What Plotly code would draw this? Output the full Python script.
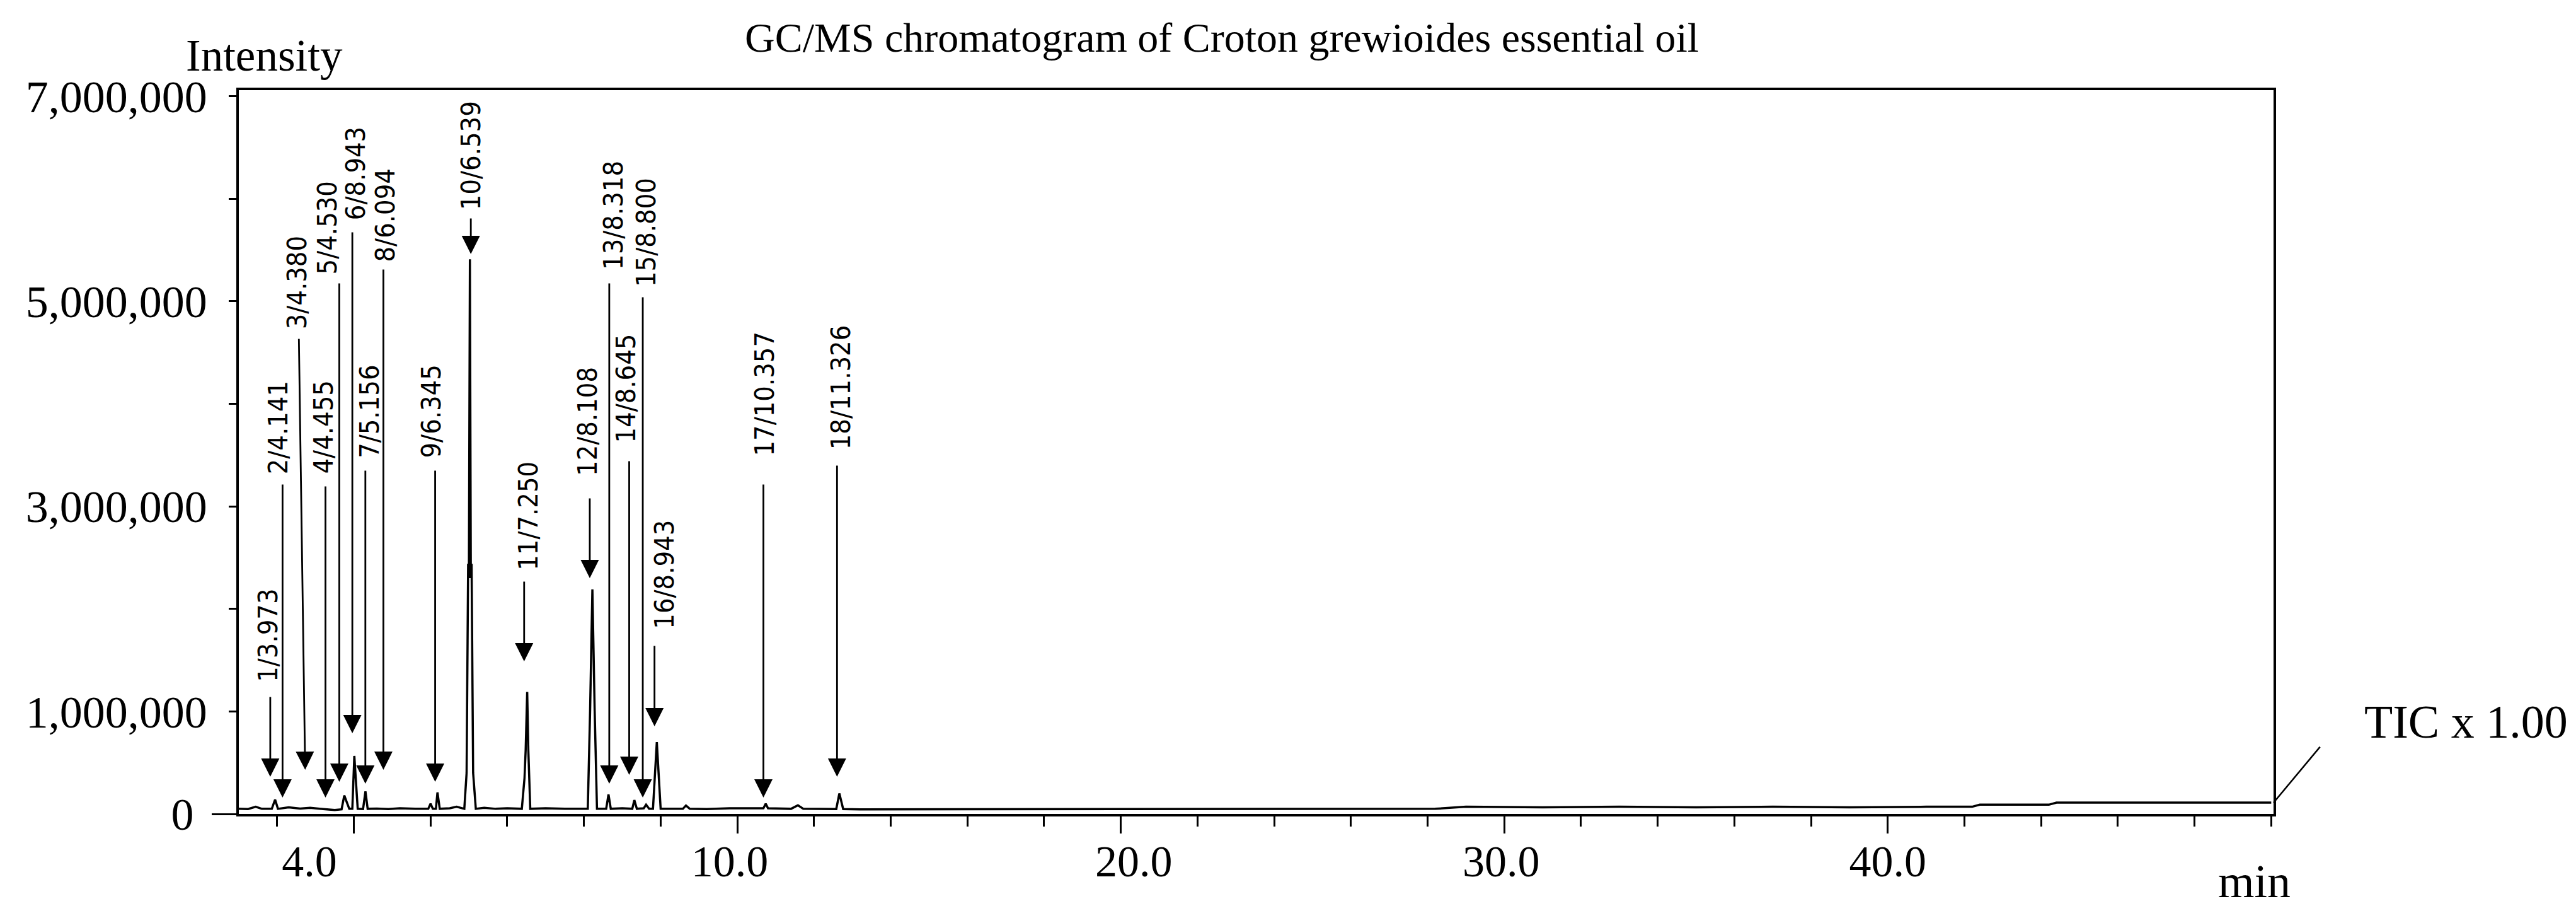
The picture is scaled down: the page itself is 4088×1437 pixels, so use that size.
import plotly.graph_objects as go

# TIC trace: retention time (min) and intensity (counts)
rt = [3.50, 3.62, 3.72, 3.80, 3.93, 3.973, 4.01, 4.15, 4.30, 4.43, 4.60, 4.75,
      4.84, 4.875, 4.94, 4.98, 5.006, 5.05, 5.12, 5.151, 5.18, 5.30, 5.45, 5.60,
      5.80, 5.97, 6.00, 6.03, 6.07, 6.09, 6.12, 6.25, 6.34, 6.44, 6.47, 6.49,
      6.50, 6.513, 6.525, 6.535, 6.555, 6.59, 6.70, 6.85, 7.00, 7.19, 7.225,
      7.24, 7.26, 7.275, 7.30, 7.50, 7.75, 8.05, 8.08, 8.11, 8.14, 8.17, 8.29,
      8.32, 8.35, 8.50, 8.63, 8.657, 8.69, 8.78, 8.81, 8.85, 8.90, 8.95, 9.00,
      9.15, 9.29, 9.33, 9.38, 9.60, 9.90, 10.20, 10.34, 10.37, 10.40, 10.70,
      10.79, 10.86, 11.00, 11.29, 11.33, 11.38, 11.60, 12.50, 14.00, 16.00,
      18.00, 19.10, 19.50, 20.50, 21.50, 22.50, 23.50, 24.50, 25.50, 26.10,
      26.20, 27.10, 27.20, 28.00, 29.00, 30.00]
tic = [50000, 48000, 70000, 50000, 50000, 140000, 50000, 65000, 52000, 60000, 48000, 38000,
       45000, 180000, 50000, 50000, 566000, 50000, 48000, 220000, 50000, 52000, 48000, 55000,
       50000, 50000, 100000, 50000, 50000, 210000, 50000, 55000, 70000, 50000, 400000, 2440000,
       2300000, 5410000, 2300000, 2440000, 400000, 50000, 60000, 50000, 55000, 50000, 350000,
       620000, 1190000, 620000, 50000, 55000, 50000, 50000, 1000000, 2190000, 1000000, 50000, 50000,
       190000, 50000, 55000, 50000, 135000, 50000, 55000, 90000, 50000, 50000, 700000, 50000,
       50000, 50000, 82000, 50000, 48000, 55000, 55000, 55000, 100000, 55000, 50000,
       85000, 50000, 48000, 48000, 200000, 48000, 45000, 45000, 45000, 45000,
       45000, 50000, 70000, 65000, 70000, 65000, 70000, 65000, 70000, 70000,
       90000, 90000, 110000, 110000, 110000, 110000]

# annotated peaks: label text, arrow position (min) and arrow tip intensity
peak_labels = ["1/3.973", "2/4.141", "3/4.380", "4/4.455", "5/4.530", "6/8.943",
               "7/5.156", "8/6.094", "9/6.345", "10/6.539", "11/7.250", "12/8.108",
               "13/8.318", "14/8.645", "15/8.800", "16/8.943", "17/10.357", "18/11.326"]
peak_rt = [3.91, 4.07, 4.365, 4.63, 4.81, 4.98, 5.15, 5.385, 6.06, 6.525, 7.22, 8.076,
           8.33, 8.59, 8.767, 8.92, 10.34, 11.30]
peak_tip = [363000, 160000, 430000, 160000, 314000, 787000, 295000, 430000, 314000,
            5461000, 1488000, 2300000, 295000, 381000, 160000, 855000, 160000, 363000]

y_ticks = [1000000, 2000000, 3000000, 4000000, 5000000, 6000000, 7000000]
y_ticktext = ["1,000,000", "", "3,000,000", "", "5,000,000", "", "7,000,000"]
x_major = [5, 10, 15, 20, 25]
x_label_pos = [4.42, 9.9, 15.17, 19.96, 25.0]
x_label_text = ["4.0", "10.0", "20.0", "30.0", "40.0"]

SERIF = "Liberation Serif, Times New Roman, serif"
NARROW = "DejaVu Sans Condensed, Liberation Sans Narrow, Arial Narrow, sans-serif"
X_RANGE = [3.5, 30.03]
Y_RANGE = [0, 7060000]

# pixel layout of the peak callouts: arrow shaft length / lean, label centre offsets
shaft_len = [128, 498, 685, 495, 792, 796, 498, 795, 495, 58, 128, 128,
             795, 499, 795, 129, 498, 495]
shaft_lean = [0, 0, -10, 0, 0, 0, 0, 0, 0, 0, 0, 0, 0, 0, 0, 0, 0, 0]
label_up = [224, 587, 773, 587, 879, 888, 590, 880, 587, 156, 231, 249,
            902, 613, 896, 241, 640, 618]
label_dx = [-4, -7, -13, -4, -20, 5, 6, 3, -7, 0, 6, -4, 6, -5, 5, 15, 1, 6]

fig = go.Figure()
fig.add_trace(go.Scatter(x=rt, y=tic, mode="lines", line=dict(color="black", width=3.5),
                         showlegend=False, hoverinfo="x+y"))
# helpers so the overlay axes get drawn
fig.add_trace(go.Scatter(x=[rt[0]], y=[tic[0]], xaxis="x2", yaxis="y", mode="markers",
                         marker=dict(opacity=0), showlegend=False, hoverinfo="skip"))
fig.add_trace(go.Scatter(x=[rt[0]], y=[tic[0]], xaxis="x", yaxis="y2", mode="markers",
                         marker=dict(opacity=0), showlegend=False, hoverinfo="skip"))

annotations = []
for i, lab in enumerate(peak_labels):
    # arrow
    annotations.append(dict(
        x=peak_rt[i], y=peak_tip[i], xref="x", yref="y", text="",
        showarrow=True, arrowhead=2, arrowsize=2.07, arrowwidth=2.8, arrowcolor="black",
        ax=shaft_lean[i], ay=-shaft_len[i],
    ))
    # rotated label
    annotations.append(dict(
        x=peak_rt[i], y=peak_tip[i], xref="x", yref="y", text=lab, textangle=-90,
        showarrow=False, xanchor="center", yanchor="middle",
        xshift=label_dx[i], yshift=label_up[i],
        font=dict(family=NARROW, size=43, color="black"),
    ))

annotations += [
    dict(text="GC/MS chromatogram of Croton grewioides essential oil", x=0.4831, y=1.0723,
         xref="paper", yref="paper", showarrow=False, xanchor="center", yanchor="middle",
         font=dict(family=SERIF, size=66, color="black")),
    dict(text="Intensity", x=0.0124, y=1.048, xref="paper", yref="paper", showarrow=False,
         xanchor="center", yanchor="middle", font=dict(family=SERIF, size=71, color="black")),
    dict(text="min", x=0.9907, y=-0.093, xref="paper", yref="paper", showarrow=False,
         xanchor="center", yanchor="middle", font=dict(family=SERIF, size=74, color="black")),
    dict(text="TIC x 1.00", x=1.044, y=0.127, xref="paper", yref="paper", showarrow=False,
         xanchor="left", yanchor="middle", font=dict(family=SERIF, size=74, color="black")),
    dict(text="", x=1, y=tic[-1], xref="paper", yref="y", showarrow=True, arrowhead=0,
         arrowwidth=2.5, arrowcolor="black", ax=75, ay=-90),
]

fig.update_layout(
    width=4088, height=1437,
    margin=dict(l=371, r=488, t=135, b=154),
    paper_bgcolor="white", plot_bgcolor="white",
    annotations=annotations,
    xaxis=dict(
        range=X_RANGE, showline=True, linewidth=3.5, linecolor="black", mirror=True,
        ticks="outside", tickmode="array", tickvals=x_major, ticklen=27, tickwidth=2.5,
        tickcolor="black", showticklabels=False, showgrid=False, zeroline=False,
        minor=dict(ticks="outside", tickmode="linear", tick0=0, dtick=1, ticklen=16,
                   tickwidth=2.5, tickcolor="black", showgrid=False),
    ),
    xaxis2=dict(
        range=X_RANGE, overlaying="x", anchor="y", side="bottom", showline=False,
        tickmode="array", tickvals=x_label_pos, ticktext=x_label_text, ticks="",
        ticklabelstandoff=28, showgrid=False, zeroline=False,
        tickfont=dict(family=SERIF, size=70, color="black"),
    ),
    yaxis=dict(
        range=Y_RANGE, showline=True, linewidth=3.5, linecolor="black", mirror=True,
        ticks="outside", tickmode="array", tickvals=y_ticks, ticktext=y_ticktext,
        ticklen=12, tickwidth=2.5, tickcolor="black", ticklabelstandoff=20,
        showgrid=False, zeroline=False,
        tickfont=dict(family=SERIF, size=72, color="black"),
    ),
    yaxis2=dict(
        range=Y_RANGE, overlaying="y", anchor="x", side="left", showline=False,
        ticks="outside", tickmode="array", tickvals=[0], ticktext=["0"], ticklen=42,
        tickwidth=3, tickcolor="black", ticklabelstandoff=14, showgrid=False, zeroline=False,
        tickfont=dict(family=SERIF, size=72, color="black"),
    ),
)

fig.write_html("out.html")
